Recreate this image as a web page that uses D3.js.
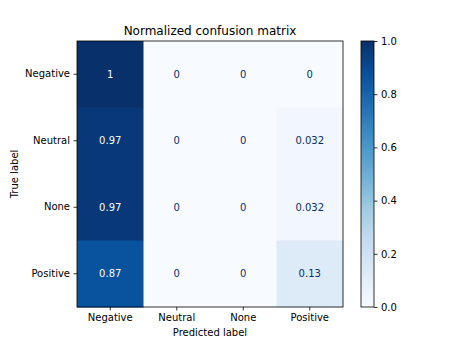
<!DOCTYPE html>
<html>
<head>
<meta charset="utf-8">
<script src="https://cdn.jsdelivr.net/npm/d3@7"></script>
<style>
  html, body { margin: 0; padding: 0; background: #ffffff; }
  svg { display: block; font-family: "DejaVu Sans", sans-serif; }
</style>
</head>
<body>
<div id="chart"></div>
<script>
// Class labels (rows = true label, columns = predicted label)
const trueLabels = ["Negative", "Neutral", "None", "Positive"];
const predLabels = ["Negative", "Neutral", "None", "Positive"];

// Row-normalized confusion matrix, one array per true class
const rowNegative = [1, 0, 0, 0];
const rowNeutral  = [0.97, 0, 0, 0.032];
const rowNone     = [0.97, 0, 0, 0.032];
const rowPositive = [0.87, 0, 0, 0.13];
const matrix = [rowNegative, rowNeutral, rowNone, rowPositive];

// Colorbar ticks
const colorbarTicks = [0.0, 0.2, 0.4, 0.6, 0.8, 1.0];

// Blues colormap stops
const bluesStops = ["#f7fbff", "#deebf7", "#c6dbef", "#9ecae1", "#6baed6",
                    "#4292c6", "#2171b5", "#08519c", "#08306b"];

const width = 460, height = 345;
const plot = { left: 77, top: 41, size: 266 };
const cbar = { left: 361, top: 41, width: 13, height: 266 };

const svg = d3.select("#chart").append("svg")
  .attr("width", width).attr("height", height);

const color = d3.scaleLinear()
  .domain(d3.range(bluesStops.length).map(i => i / (bluesStops.length - 1)))
  .range(bluesStops)
  .interpolate(d3.interpolateRgb)
  .clamp(true);

const x = d3.scaleBand().domain(predLabels).range([plot.left, plot.left + plot.size]);
const y = d3.scaleBand().domain(trueLabels).range([plot.top, plot.top + plot.size]);

const cells = [];
matrix.forEach((row, i) => row.forEach((v, j) => cells.push({ t: trueLabels[i], p: predLabels[j], v })));

// Heatmap cells
svg.append("g").selectAll("rect").data(cells).join("rect")
  .attr("x", d => x(d.p)).attr("y", d => y(d.t))
  .attr("width", x.bandwidth() + 0.5).attr("height", y.bandwidth() + 0.5)
  .attr("fill", d => color(d.v));

// Cell annotations: light text on dark cells, dark text on light cells
const thresh = 0.5;
const fmt = v => d3.format(".2~g")(v);
svg.append("g").selectAll("text").data(cells).join("text")
  .attr("x", d => x(d.p) + x.bandwidth() / 2)
  .attr("y", d => y(d.t) + y.bandwidth() / 2)
  .attr("text-anchor", "middle").attr("dominant-baseline", "central")
  .attr("font-size", 10)
  .attr("fill", d => d.v > thresh ? bluesStops[0] : bluesStops[bluesStops.length - 1])
  .text(d => fmt(d.v));

// Axes
function styleAxis(g) {
  g.select(".domain").remove();
  g.selectAll(".tick line").attr("stroke", "#000").attr("stroke-width", 0.8);
  g.selectAll(".tick text").attr("font-size", 10).attr("fill", "#000")
    .attr("font-family", "DejaVu Sans, sans-serif");
}
svg.append("g").attr("transform", `translate(0,${plot.top + plot.size})`)
  .call(d3.axisBottom(x).tickSize(3.5).tickPadding(3.5)).call(styleAxis);
svg.append("g").attr("transform", `translate(${plot.left},0)`)
  .call(d3.axisLeft(y).tickSize(3.5).tickPadding(3.5)).call(styleAxis);

// Frame
svg.append("rect").attr("x", plot.left).attr("y", plot.top)
  .attr("width", plot.size).attr("height", plot.size)
  .attr("fill", "none").attr("stroke", "#000").attr("stroke-width", 0.8);

// Title and axis labels
svg.append("text").attr("x", plot.left + plot.size / 2).attr("y", 35)
  .attr("text-anchor", "middle").attr("font-size", 12).text("Normalized confusion matrix");
svg.append("text").attr("x", plot.left + plot.size / 2).attr("y", 336)
  .attr("text-anchor", "middle").attr("font-size", 10).text("Predicted label");
svg.append("text").attr("transform", `translate(18,${plot.top + plot.size / 2}) rotate(-90)`)
  .attr("text-anchor", "middle").attr("font-size", 10).text("True label");

// Colorbar
const defs = svg.append("defs");
const grad = defs.append("linearGradient").attr("id", "cbarGrad")
  .attr("x1", 0).attr("y1", 1).attr("x2", 0).attr("y2", 0);
bluesStops.forEach((c, i) => grad.append("stop")
  .attr("offset", i / (bluesStops.length - 1)).attr("stop-color", c));

const cy = d3.scaleLinear().domain([0, 1]).range([cbar.top + cbar.height, cbar.top]);
svg.append("rect").attr("x", cbar.left).attr("y", cbar.top)
  .attr("width", cbar.width).attr("height", cbar.height)
  .attr("fill", "url(#cbarGrad)");
svg.append("g").attr("transform", `translate(${cbar.left + cbar.width},0)`)
  .call(d3.axisRight(cy).tickValues(colorbarTicks).tickFormat(d3.format(".1f"))
    .tickSize(3.5).tickPadding(3.5))
  .call(styleAxis);
svg.append("rect").attr("x", cbar.left).attr("y", cbar.top)
  .attr("width", cbar.width).attr("height", cbar.height)
  .attr("fill", "none").attr("stroke", "#000").attr("stroke-width", 0.8);
</script>
</body>
</html>
